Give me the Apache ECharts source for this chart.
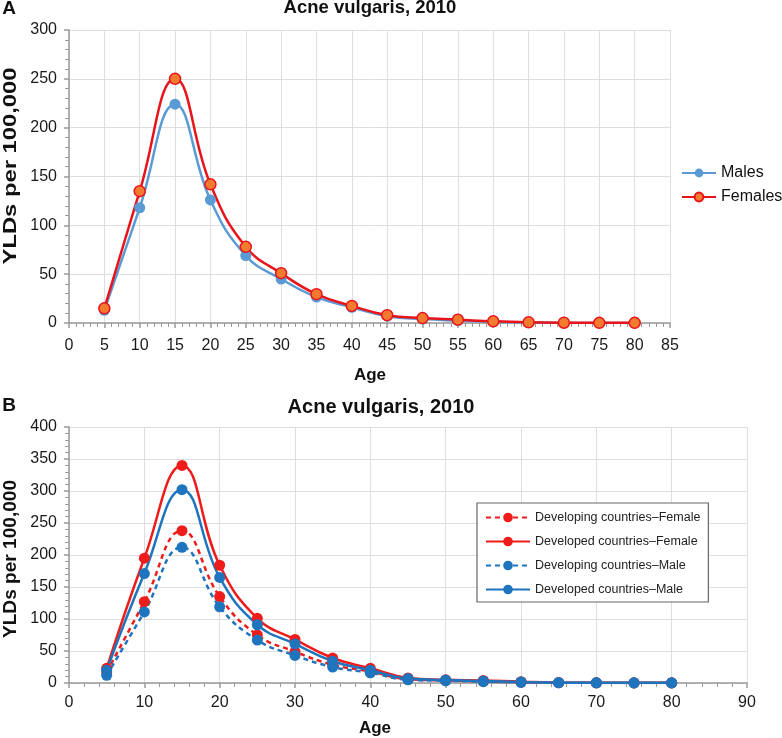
<!DOCTYPE html>
<html><head><meta charset="utf-8">
<script src="https://cdn.jsdelivr.net/npm/echarts@6/dist/echarts.min.js"></script>
<style>html,body{margin:0;padding:0;background:#fff}#c{width:782px;height:738px}</style>
</head><body><div id="c"></div>
<script>
// ---- data ----
const ages = [5,10,15,20,25,30,35,40,45,50,55,60,65,70,75,80];
const malesA   = [13,118,224,126,69,45,26.5,16,7,4,2.5,1.3,0.5,0.2,0.1,0.1];
const femalesA = [15,135,250,142,78,51,29.5,17.5,8,5,3.4,1.7,0.7,0.3,0.2,0.2];
const devingFemale = [17,127,238,135,75,49,28.5,18,6,4,2.5,1.2,0.5,0.2,0.1,0.1];
const devedFemale  = [23,195,340,184,101,68,39,23,8,5,4,2,0.6,0.3,0.2,0.2];
const devingMale   = [12,111,212,119,67,43,25,16,5,3.5,2,1,0.4,0.2,0.1,0.1];
const devedMale    = [20,171,302,165,91,61,34,20,7,4.5,3,1.5,0.5,0.3,0.2,0.2];
const titleText = 'Acne vulgaris, 2010';
const yName = 'YLDs per 100,000';
const xName = 'Age';

const pair = arr => ages.map((a,i)=>[a,arr[i]]);
const FONT = '"Liberation Sans", Arial, sans-serif';
const axisLineC = '#9a9a9a', gridC = '#dedede', labelC = '#1a1a1a';

function xAx(gi, max, interval, margin){
  return {type:'value', gridIndex:gi, min:0, max:max, interval:interval,
    axisLine:{show:true, lineStyle:{color:axisLineC, width:1.5}},
    axisTick:{show:true, length:5, lineStyle:{color:axisLineC, width:1.5}},
    minorTick:{show:true, splitNumber:5, length:4, lineStyle:{color:axisLineC}},
    splitLine:{show:true, lineStyle:{color:gridC, width:1}},
    axisLabel:{color:labelC, fontSize:16, fontFamily:FONT, margin:margin}};
}
function yAx(gi, max){
  return {type:'value', gridIndex:gi, min:0, max:max, interval:50,
    axisLine:{show:true, lineStyle:{color:axisLineC, width:1.5}},
    axisTick:{show:true, length:5, lineStyle:{color:axisLineC, width:1.5}},
    minorTick:{show:true, splitNumber:5, length:4, lineStyle:{color:axisLineC}},
    splitLine:{show:true, lineStyle:{color:gridC, width:1}},
    axisLabel:{color:labelC, fontSize:16, fontFamily:FONT, margin:12}};
}
const lightBlue = '#5b9bd5', redA = '#e8141b', orangeFill = '#f47a30';
const redB = '#ef1c1c', blueB = '#1f74be';

function s(name, arr, gi, color, dashed, size, fill, border){
  return {name:name, type:'line', xAxisIndex:gi, yAxisIndex:gi, data:pair(arr),
    smooth:0.45, symbol:'circle', symbolSize:size,
    lineStyle:{color:color, width:2.5, type: dashed?[5,4]:'solid'},
    itemStyle:{color: fill||color, borderColor: border||color, borderWidth: border?1.5:0},
    emphasis:{disabled:true}, animation:false};
}

const chart = echarts.init(document.getElementById('c'), null, {renderer:'canvas'});
const txt = (t,x,y,size,bold,rot,sx)=>({type:'text', x:x, y:y, rotation:rot||0, scaleX:sx||1,
  style:{text:t, fill:'#111', font:(bold?'bold ':'')+size+'px '+FONT, textAlign:'center', textVerticalAlign:'middle'}});
chart.setOption({
  backgroundColor:'#fff',
  animation:false,
  grid:[{left:69, top:30, width:601, height:293},
        {left:69, top:427, width:678, height:256}],
  xAxis:[xAx(0,85,5,15), xAx(1,90,10,12)],
  yAxis:[yAx(0,300), yAx(1,400)],
  legend:[
    {data:['Males','Females'], orient:'vertical', left:676, top:160, itemWidth:34, itemHeight:11, itemGap:8,
     textStyle:{fontSize:16, fontFamily:FONT, color:'#111'}},
    {data:['Developing countries\u2013Female','Developed countries\u2013Female','Developing countries\u2013Male','Developed countries\u2013Male'],
     orient:'vertical', left:477, top:503, itemWidth:44, itemHeight:12, itemGap:11,
     padding:[8,8,6,8], borderColor:'#666', borderWidth:1.2, backgroundColor:'#fff',
     textStyle:{fontSize:12.5, fontFamily:FONT, color:'#222'}}
  ],
  series:[
    s('Males', malesA, 0, lightBlue, false, 11),
    s('Females', femalesA, 0, redA, false, 11, orangeFill, redA),
    s('Developing countries\u2013Female', devingFemale, 1, redB, true, 11),
    s('Developed countries\u2013Female', devedFemale, 1, redB, false, 11),
    s('Developing countries\u2013Male', devingMale, 1, blueB, true, 11),
    s('Developed countries\u2013Male', devedMale, 1, blueB, false, 11)
  ],
  graphic:[
    txt('A', 9, 9, 19, true),
    txt('B', 9, 406, 19, true),
    txt(titleText, 370, 8, 18.5, true),
    txt(titleText, 381, 407, 20, true),
    txt(xName, 370, 375, 17, true),
    txt(xName, 375, 728, 17, true),
    txt(yName, 11, 166, 18, true, Math.PI/2, 1.32),
    txt(yName, 11, 559, 18, true, Math.PI/2, 1.06)
  ]
});
</script></body></html>
